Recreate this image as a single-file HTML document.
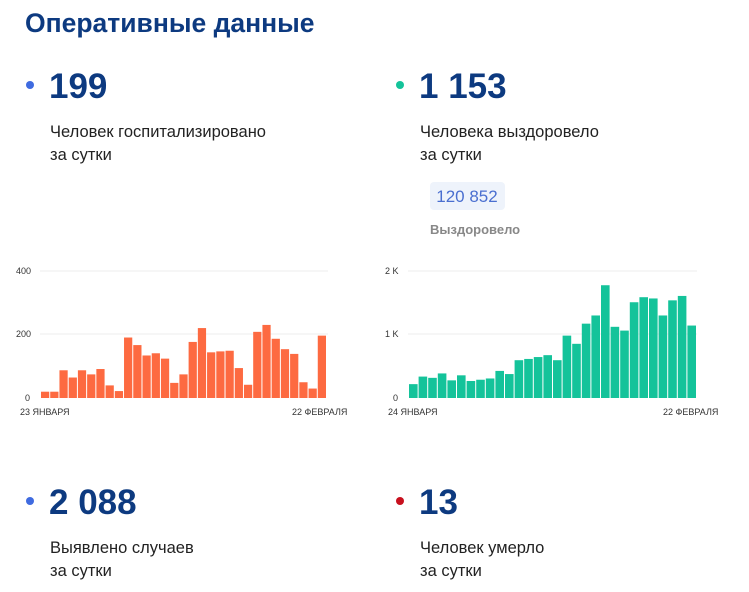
<!DOCTYPE html><html><head><meta charset="utf-8"><style>body{margin:0;background:#fff;width:749px;height:587px;overflow:hidden}</style></head><body>
<svg width="749" height="587" xmlns="http://www.w3.org/2000/svg" font-family="Liberation Sans, sans-serif">
<text x="25" y="32" font-size="26.5" font-weight="bold" fill="#0d3a80">Оперативные данные</text>
<circle cx="30" cy="85" r="4" fill="#3f6be0"/>
<text x="49" y="98" font-size="35" font-weight="bold" fill="#0d3a80">199</text>
<text x="50" y="137" font-size="16.5" fill="#222">Человек госпитализировано</text>
<text x="50" y="160" font-size="16.5" fill="#222">за сутки</text>
<circle cx="400" cy="85" r="4" fill="#14c39a"/>
<text x="419" y="98" font-size="35" font-weight="bold" fill="#0d3a80">1 153</text>
<text x="420" y="137" font-size="16.5" fill="#222">Человека выздоровело</text>
<text x="420" y="160" font-size="16.5" fill="#222">за сутки</text>
<rect x="430" y="182" width="75" height="28" rx="4" fill="#eef3fb"/>
<text x="467" y="202" font-size="17" fill="#4a6fd0" text-anchor="middle">120 852</text>
<text x="430" y="234" font-size="13" font-weight="bold" fill="#888">Выздоровело</text>
<g font-size="9" fill="#333">
<line x1="40" y1="271" x2="328" y2="271" stroke="#eee"/><line x1="40" y1="334" x2="328" y2="334" stroke="#eee"/>
<text x="16" y="274">400</text><text x="16" y="337">200</text><text x="25" y="401">0</text>
<text x="20" y="415">23 ЯНВАРЯ</text><text x="292" y="415">22 ФЕВРАЛЯ</text>
<line x1="408" y1="271" x2="697" y2="271" stroke="#eee"/><line x1="408" y1="334" x2="697" y2="334" stroke="#eee"/>
<text x="385" y="274">2 K</text><text x="385" y="337">1 K</text><text x="393" y="401">0</text>
<text x="388" y="415">24 ЯНВАРЯ</text><text x="663" y="415">22 ФЕВРАЛЯ</text>
</g>
<g id="l" fill="#fd6a41"></g>
<g id="r" fill="#14c39a"></g>
<circle cx="30" cy="501" r="4" fill="#3f6be0"/>
<text x="49" y="514" font-size="35" font-weight="bold" fill="#0d3a80">2 088</text>
<text x="50" y="553" font-size="16.5" fill="#222">Выявлено случаев</text>
<text x="50" y="576" font-size="16.5" fill="#222">за сутки</text>
<circle cx="400" cy="501" r="4" fill="#c8101e"/>
<text x="419" y="514" font-size="35" font-weight="bold" fill="#0d3a80">13</text>
<text x="420" y="553" font-size="16.5" fill="#222">Человек умерло</text>
<text x="420" y="576" font-size="16.5" fill="#222">за сутки</text>
</svg>
<script>
function bars(id,vals,x0,x1,scale){var g=document.getElementById(id),w=(x1-x0)/vals.length,s='';vals.forEach(function(v,i){var h=v*scale;s+='<rect x="'+(x0+i*w).toFixed(2)+'" y="'+(398-h).toFixed(2)+'" width="'+(w-1).toFixed(2)+'" height="'+h.toFixed(2)+'"/>';});g.innerHTML=s;}
bars('l',[20,20,88,65,88,75,92,40,22,192,168,135,142,125,48,75,178,222,145,148,150,95,42,210,232,188,155,140,50,30,198],41,327,63/200);
bars('r',[220,340,320,390,280,360,270,290,310,430,380,600,620,650,680,600,990,860,1180,1310,1790,1130,1070,1520,1600,1580,1310,1550,1620,1150],409,697,63/1000);
</script>
</body></html>
